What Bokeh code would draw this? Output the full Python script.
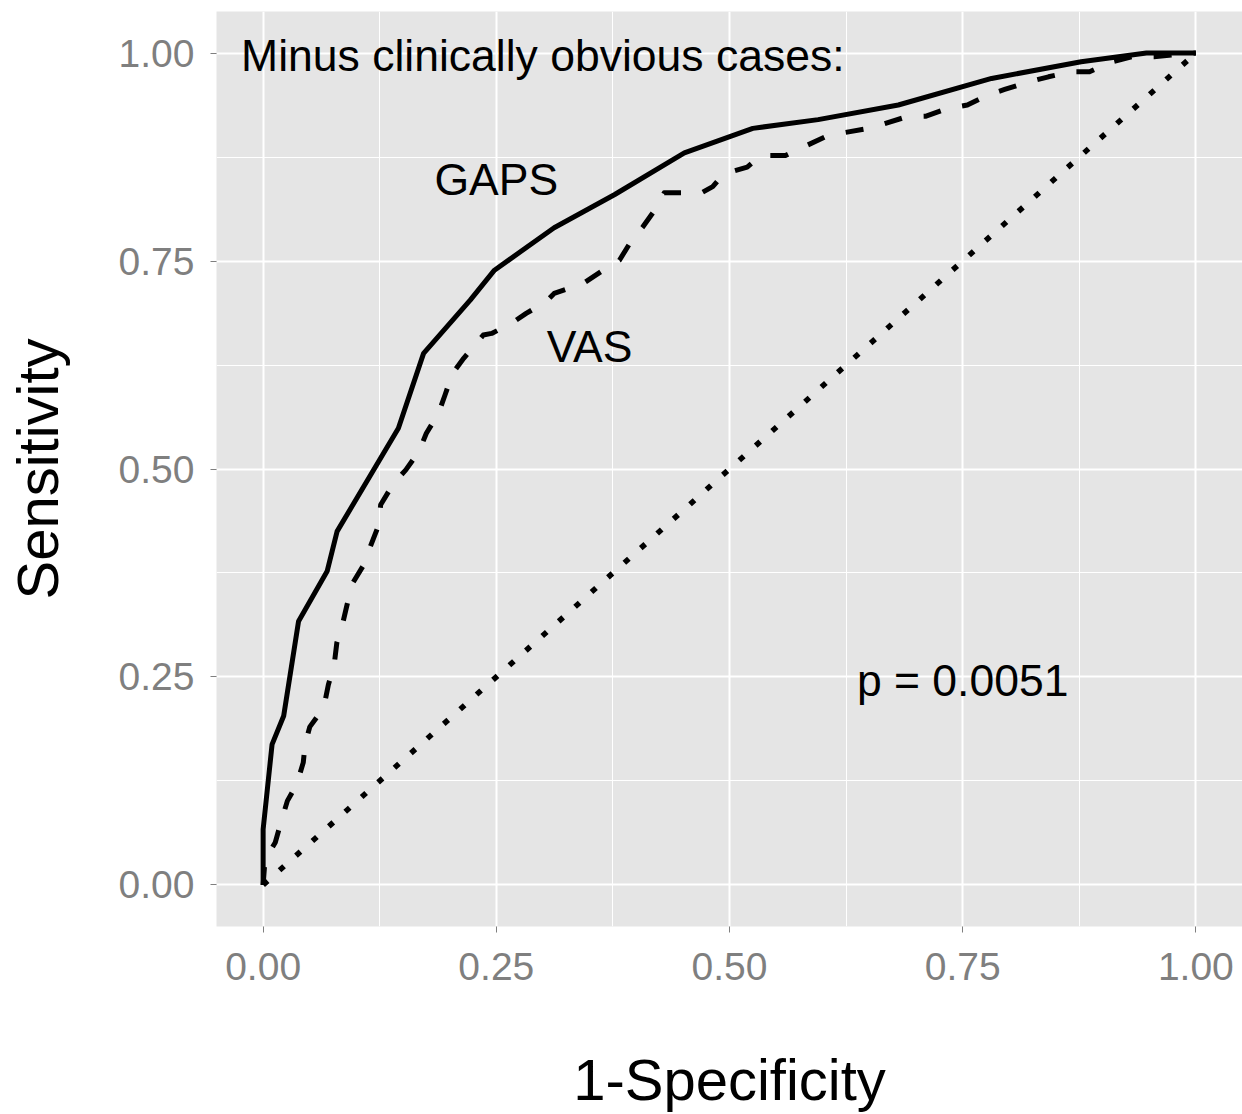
from bokeh.plotting import figure
from bokeh.models import Range1d, FixedTicker, ColumnDataSource
from bokeh.core.properties import value
from bokeh.embed import file_html
from bokeh.resources import INLINE

# ROC curve for GAPS score (false positive rate, true positive rate)
gaps_fpr = [0.0, 0.0, 0.0096, 0.022, 0.038, 0.0686, 0.0793, 0.145, 0.172, 0.222,
            0.248, 0.312, 0.377, 0.4516, 0.525, 0.595, 0.681, 0.781, 0.877, 0.947, 1.0]
gaps_tpr = [0.0, 0.067, 0.169, 0.203, 0.317, 0.377, 0.425, 0.549, 0.639, 0.703,
            0.739, 0.790, 0.830, 0.880, 0.9095, 0.920, 0.9376, 0.9695, 0.9896, 1.0, 1.0]

# ROC curve for VAS score
vas_fpr = [0.0, 0.002, 0.013, 0.019, 0.026, 0.036, 0.043, 0.045, 0.050, 0.065,
           0.070, 0.076, 0.079, 0.085, 0.095, 0.108, 0.115, 0.124, 0.126, 0.140,
           0.153, 0.167, 0.175, 0.188, 0.195, 0.203, 0.215, 0.236, 0.245, 0.266,
           0.282, 0.303, 0.312, 0.343, 0.362, 0.382, 0.393, 0.407, 0.421, 0.430,
           0.470, 0.482, 0.494, 0.519, 0.534, 0.560, 0.579, 0.603, 0.621, 0.647,
           0.666, 0.690, 0.710, 0.734, 0.755, 0.777, 0.795, 0.821, 0.842, 0.866,
           0.886, 0.910, 0.931, 0.955, 0.977, 1.0]
vas_tpr = [0.0, 0.030, 0.051, 0.075, 0.101, 0.121, 0.147, 0.169, 0.190, 0.213,
           0.241, 0.263, 0.291, 0.313, 0.361, 0.385, 0.407, 0.433, 0.457, 0.483,
           0.499, 0.521, 0.543, 0.567, 0.589, 0.615, 0.633, 0.661, 0.663, 0.675,
           0.687, 0.701, 0.711, 0.723, 0.737, 0.751, 0.771, 0.791, 0.813, 0.832,
           0.832, 0.8395, 0.855, 0.863, 0.877, 0.877, 0.887, 0.8995, 0.904, 0.909,
           0.915, 0.9235, 0.924, 0.9335, 0.9375, 0.9496, 0.9563, 0.9655, 0.9715, 0.9775,
           0.9775, 0.9895, 0.9955, 0.9955, 0.998, 1.0]

# chance diagonal
ref_x = [0.0, 1.0]
ref_y = [0.0, 1.0]

tick_values = [0.0, 0.25, 0.5, 0.75, 1.0]
tick_labels = ["0.00", "0.25", "0.50", "0.75", "1.00"]
minor_values = [0.125, 0.375, 0.625, 0.875]

# annotations: label, x, y, alignment
ann_text = ["Minus clinically obvious cases:", "GAPS", "VAS", "p = 0.0051"]
ann_x = [-0.0236, 0.25, 0.35, 0.75]
ann_y = [0.997, 0.848, 0.647, 0.246]
ann_align = ["left", "center", "center", "center"]

FONT = "Liberation Sans"

p = figure(frame_width=1026, frame_height=915, output_backend="svg",
           toolbar_location=None, x_range=Range1d(-0.05, 1.05),
           y_range=Range1d(-0.05, 1.05),
           min_border_left=216, min_border_right=0, min_border_top=11,
           min_border_bottom=188)
p.outline_line_color = None
p.background_fill_color = "#E5E5E5"
p.border_fill_color = "white"

for ax in (p.xaxis[0], p.yaxis[0]):
    ax.ticker = FixedTicker(ticks=tick_values, minor_ticks=minor_values)
    ax.major_label_overrides = {v: s for v, s in zip(tick_values, tick_labels)}
    ax.axis_line_color = None
    ax.major_tick_line_color = "#7F7F7F"
    ax.major_tick_line_width = 1
    ax.major_tick_in = 0
    ax.major_tick_out = 6
    ax.minor_tick_line_color = None
    ax.major_label_text_color = "#7F7F7F"
    ax.major_label_text_font = FONT
    ax.major_label_text_font_size = "39px"
    ax.axis_label_text_font = FONT
    ax.axis_label_text_font_size = "58px"
    ax.axis_label_text_font_style = "normal"
    ax.axis_label_text_color = "black"

p.xaxis.axis_label = "1-Specificity"
p.yaxis.axis_label = "Sensitivity"
p.xaxis.major_label_standoff = 20
p.yaxis.major_label_standoff = 16
p.xaxis.axis_label_standoff = 64
p.yaxis.axis_label_standoff = 46

for g in (p.xgrid[0], p.ygrid[0]):
    g.grid_line_color = "white"
    g.grid_line_width = 2
    g.minor_grid_line_color = "white"
    g.minor_grid_line_width = 1

p.line(ref_x, ref_y, line_color="black", line_width=5.5, line_dash="6 16",
       line_cap="butt")
p.line(vas_fpr, vas_tpr, line_color="black", line_width=5, line_dash="18 22",
       line_join="round")
p.line(gaps_fpr, gaps_tpr, line_color="black", line_width=5, line_join="round")

src = ColumnDataSource(dict(x=ann_x, y=ann_y, t=ann_text, a=ann_align))
p.text(x="x", y="y", text="t", text_align="a", source=src,
       text_baseline="alphabetic", text_font=value(FONT),
       text_font_size="44.5px", text_color="black")

open("out.html", "w").write(file_html(p, INLINE))
